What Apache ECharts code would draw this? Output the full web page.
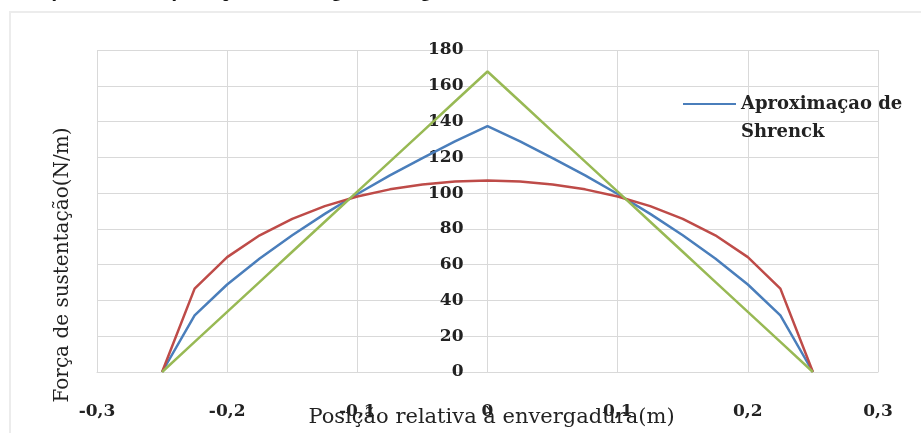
<!DOCTYPE html>
<html>
<head>
<meta charset="utf-8">
<script src="https://cdn.jsdelivr.net/npm/echarts@6/dist/echarts.min.js"></script>
<style>html,body{margin:0;padding:0;background:#fff}#c{width:921px;height:433px}</style>
</head>
<body>
<div id="c"></div>
<script>
const positions = [-0.25,-0.225,-0.2,-0.175,-0.15,-0.125,-0.1,-0.075,-0.05,-0.025,0,0.025,0.05,0.075,0.1,0.125,0.15,0.175,0.2,0.225,0.25];
const schrenck = [0,31.7,48.9,63.4,76.4,88.4,99.5,109.9,119.6,128.9,137.5,128.9,119.6,109.9,99.5,88.4,76.4,63.4,48.9,31.7,0];
const eliptica = [0,46.6,64.2,76.4,85.6,92.7,98.1,102.1,104.8,106.5,107,106.5,104.8,102.1,98.1,92.7,85.6,76.4,64.2,46.6,0];
const linear = [0,16.8,33.6,50.4,67.2,84,100.8,117.6,134.4,151.2,168,151.2,134.4,117.6,100.8,84,67.2,50.4,33.6,16.8,0];
const xTicks = [-0.3,-0.2,-0.1,0,0.1,0.2,0.3];
const yTicks = [0,20,40,60,80,100,120,140,160,180];

const pair = arr => positions.map((x,i)=>[x,arr[i]]);
const serif = '"DejaVu Serif","Liberation Serif",serif';
const chart = echarts.init(document.getElementById('c'));
chart.setOption({
  animation:false,
  backgroundColor:'#fff',
  graphic:[
    {type:'rect',shape:{x:10,y:12,width:940,height:460},style:{fill:'none',stroke:'#ececec',lineWidth:2},z:-1},
    {type:'text',x:8,y:1,style:{text:'Variação da distribuição de pressão ao longo da envergadura',font:'bold 18px "Liberation Serif",serif',fill:'#111',verticalAlign:'bottom'}}
  ],
  grid:{left:97,right:43,top:50,bottom:61,containLabel:false,outerBoundsMode:'none'},
  legend:{
    data:[{name:'Aproximaçao de Shrenck'}],
    left:682, top:62, padding:0,
    itemWidth:53, itemHeight:14,
    itemStyle:{opacity:0},
    formatter:()=> '\nAproximaçao de\nShrenck',
    textStyle:{fontFamily:serif,fontSize:18,fontWeight:'bold',color:'#222',lineHeight:28}
  },
  xAxis:{
    type:'value',min:-0.3,max:0.3,interval:0.1,
    name:'Posição relativa à envergadura(m)',nameLocation:'middle',nameGap:35,nameMoveOverlap:false,
    nameTextStyle:{fontFamily:serif,fontSize:21,color:'#222',padding:[0,0,0,8]},
    axisLine:{show:true,lineStyle:{color:'#d9d9d9',width:1}},
    axisTick:{show:false},
    splitLine:{show:true,lineStyle:{color:'#d9d9d9',width:1}},
    axisLabel:{margin:31,fontFamily:serif,fontSize:17,fontWeight:'bold',color:'#222',
      formatter:v=>{const t=xTicks.find(k=>Math.abs(k-v)<1e-9);return t===undefined?'':(t===0?'0':String(t).replace('.',','));}}
  },
  yAxis:{
    type:'value',min:0,max:180,interval:20,offset:-390.5,
    name:'Força de sustentação(N/m)',nameLocation:'middle',nameGap:415,nameMoveOverlap:false,
    nameTextStyle:{fontFamily:serif,fontSize:20,color:'#222',padding:[0,108,0,0]},
    axisLine:{show:false},
    axisTick:{show:false},
    splitLine:{show:true,lineStyle:{color:'#d9d9d9',width:1}},
    axisLabel:{margin:24,fontFamily:serif,fontSize:17,fontWeight:'bold',color:'#222',
      formatter:v=>yTicks.includes(v)?String(v):''}
  },
  series:[
    {name:'Aproximaçao de Shrenck',type:'line',data:pair(schrenck),symbol:'none',lineStyle:{color:'#4a7ebb',width:2.5},itemStyle:{color:'#4a7ebb'}},
    {name:'Distribuição elíptica',type:'line',data:pair(eliptica),symbol:'none',lineStyle:{color:'#be4b48',width:2.5},itemStyle:{color:'#be4b48'}},
    {name:'Distribuição linear',type:'line',data:pair(linear),symbol:'none',lineStyle:{color:'#98b954',width:2.5},itemStyle:{color:'#98b954'}}
  ]
});
</script>
</body>
</html>
